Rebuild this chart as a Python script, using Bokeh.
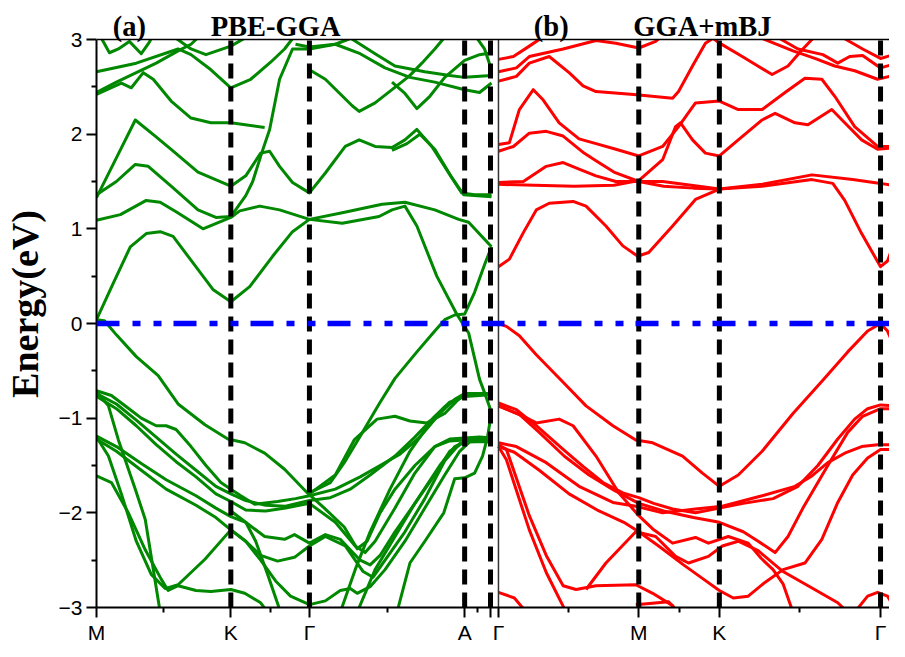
from bokeh.plotting import figure
from bokeh.models import Range1d, FixedTicker, Span, Label
from bokeh.embed import file_html
from bokeh.resources import INLINE

# ---------------- k-path (path-length units) ----------------
k_ticks = [0, 135, 214, 370, 396, 404, 545, 626, 788]
k_labels = ["M", "K", "Γ", "A", "", "Γ", "M", "K", "Γ"]
k_minor = [67.5, 174.5, 292, 383, 474.5, 585.5, 707]
k_dashed = [135, 214, 370, 396, 545, 626, 788]
k_divider = [404]
e_ticks = [-3, -2, -1, 0, 1, 2, 3]
e_minor = [-2.5, -1.5, -0.5, 0.5, 1.5, 2.5]

# ---------------- (a) PBE-GGA bands: (k, E[eV]) ----------------
pbe_c1 = [(0,0.04),(17,0.43),(34,0.81),(50,0.95),(64,0.97),(77,0.92),(97,0.64),(117,0.36),(135,0.23),(154,0.39),(177,0.71),(197,0.97),(214,1.1),(247,1.06),(284,1.13),(297,1.2),(310,1.24),(322,1.03),(342,0.5),(362,0.1),(374,-0.1),(385,-0.59),(390,-0.73),(397,-0.94),(393,-1.2),(388,-1.4),(380,-1.58),(370,-1.63),(360,-1.64),(349,-2.0),(330,-2.3),(315,-2.53),(302,-3.05)]
pbe_c2 = [(214,1.1),(247,1.17),(287,1.26),(310,1.28),(340,1.2),(364,1.1),(374,1.07),(397,0.81)]
pbe_ca = [(0,1.09),(24,1.15),(50,1.3),(64,1.28),(80,1.18),(107,1.0),(135,1.12),(144,1.19),(164,1.24),(184,1.2),(214,1.1)]
pbe_cb = [(0,1.36),(20,1.5),(39,1.68),(52,1.66),(75,1.45),(102,1.2),(120,1.12),(135,1.13),(150,1.35),(157,1.5),(166,1.8),(174,2.05),(184,2.58),(197,2.9),(214,2.9),(240,2.95),(265,3.05)]
pbe_cc = [(0,1.33),(20,1.75),(39,2.15),(59,1.98),(75,1.84),(102,1.6),(135,1.45),(150,1.56),(165,1.8),(174,1.82),(184,1.66),(197,1.49),(214,1.38),(230,1.59),(250,1.87),(264,1.94),(280,1.87),(297,1.86),(310,1.94),(322,2.05),(337,1.87),(354,1.59),(367,1.38),(380,1.36),(397,1.36)]
pbe_cc2 = [(297,1.83),(312,1.9),(325,2.0),(340,1.84),(356,1.56),(369,1.36),(397,1.34)]
pbe_cd = [(0,2.42),(25,2.54),(35,2.49),(47,2.65),(57,2.58),(75,2.35),(95,2.17),(115,2.12),(135,2.12),(169,2.07)]
pbe_ce = [(0,2.66),(40,2.75),(82,2.9),(95,2.84),(115,2.68),(135,2.49),(155,2.58),(175,2.76),(189,2.9),(200,3.05)]
pbe_cg = [(0,2.44),(20,2.55),(40,2.65),(60,2.75),(82,2.88),(95,2.95),(105,3.05)]
pbe_ch = [(3,3.05),(13,2.86),(22,2.9),(33,2.98),(45,2.85),(53,2.97),(57,3.05)]
pbe_ci = [(75,3.05),(95,2.9),(110,2.84),(135,2.93),(155,3.05)]
pbe_cj = [(214,2.68),(230,2.58),(257,2.3),(264,2.24),(280,2.33),(297,2.47),(314,2.61),(327,2.75),(340,2.9),(352,3.05)]
pbe_ck = [(200,2.95),(214,2.92),(240,2.95),(265,2.85),(290,2.7),(315,2.6),(340,2.55),(370,2.47),(385,2.44),(397,2.54)]
pbe_cl = [(250,3.05),(280,2.85),(300,2.72),(330,2.66),(355,2.62),(370,2.6),(397,2.62)]
pbe_cm = [(297,2.55),(310,2.43),(322,2.27),(335,2.4),(350,2.6),(370,2.78),(385,2.84),(397,2.86)]
pbe_cn = [(380,3.05),(390,2.9),(397,2.68)]
pbe_v1 = [(0,0.04),(8,0.03),(20,-0.12),(40,-0.35),(62,-0.55),(82,-0.85),(109,-1.07),(132,-1.22),(149,-1.26),(169,-1.37),(189,-1.54),(212,-1.79),(229,-1.95),(249,-2.15),(262,-2.38),(272,-2.3),(285,-2.0),(300,-1.75),(320,-1.5),(340,-1.3),(355,-1.22),(370,-1.21),(385,-1.2),(397,-1.21)]
pbe_v2 = [(214,-1.79),(235,-1.68),(249,-1.47),(265,-1.19),(284,-0.85),(300,-0.58),(322,-0.3),(340,-0.08),(350,0.04),(360,0.09),(370,0.1),(380,0.33),(390,0.62),(397,0.81)]
pbe_b1 = [(0,-0.71),(15,-0.76),(30,-0.88),(45,-1.0),(60,-1.08),(70,-1.08),(80,-1.12),(95,-1.3),(110,-1.5),(125,-1.68),(135,-1.75),(145,-1.82),(159,-1.91),(182,-1.88),(200,-1.85),(214,-1.82),(240,-1.75),(265,-1.62),(285,-1.5),(305,-1.38),(325,-1.2),(345,-0.95),(360,-0.8),(370,-0.74),(385,-0.74),(397,-0.74)]
pbe_b2 = [(0,-0.74),(20,-0.85),(40,-1.02),(60,-1.2),(80,-1.38),(100,-1.55),(120,-1.72),(135,-1.8),(150,-1.87),(170,-1.92),(190,-1.93),(214,-1.87),(235,-1.84),(255,-1.75),(275,-1.6),(300,-1.4),(320,-1.2),(340,-0.98),(355,-0.83),(370,-0.77),(385,-0.76),(397,-0.75)]
pbe_b3 = [(0,-0.77),(20,-0.9),(40,-1.08),(60,-1.28),(80,-1.46),(100,-1.62),(120,-1.8),(135,-1.88),(150,-1.97),(170,-1.98),(190,-1.95),(214,-1.9),(240,-2.1),(260,-2.35),(270,-2.42),(280,-2.3),(300,-1.95),(320,-1.58),(340,-1.3),(355,-1.24),(370,-1.23),(397,-1.22)]
pbe_b4 = [(0,-1.19),(20,-1.3),(45,-1.48),(70,-1.65),(100,-1.82),(120,-1.95),(135,-2.04),(150,-2.1),(169,-2.25),(189,-2.28),(199,-2.23),(214,-2.32),(230,-2.23),(245,-2.28),(265,-2.5),(275,-2.55),(285,-2.45),(300,-2.2),(320,-1.9),(340,-1.6),(355,-1.35),(370,-1.25),(397,-1.25)]
pbe_b5 = [(0,-1.22),(20,-1.35),(45,-1.55),(70,-1.75),(100,-1.92),(120,-2.05),(135,-2.18),(150,-2.3),(165,-2.45),(182,-2.51),(199,-2.47),(214,-2.35),(230,-2.25),(250,-2.35),(268,-2.62),(278,-2.68),(290,-2.5),(310,-2.2),(330,-1.85),(350,-1.45),(365,-1.27),(380,-1.22),(397,-1.23)]
pbe_b6 = [(0,-1.61),(15,-1.68),(32,-2.0),(49,-2.39),(65,-2.7),(72,-2.82),(82,-2.77),(100,-2.82),(115,-2.83),(135,-2.81),(149,-2.85),(165,-2.95),(172,-3.05)]
pbe_b7 = [(0,-0.72),(12,-0.87),(22,-1.23),(39,-1.75),(49,-2.07),(64,-3.05)]
pbe_b8 = [(0,-1.2),(12,-1.4),(25,-1.8),(40,-2.3),(55,-2.65),(69,-2.8),(82,-2.76),(109,-2.49),(135,-2.18),(150,-2.3),(165,-2.5),(180,-2.72),(195,-2.88),(214,-2.97),(230,-2.93),(245,-2.82),(255,-2.8),(262,-2.85),(275,-2.78),(290,-2.6),(310,-2.3),(330,-1.95),(350,-1.6),(365,-1.35),(375,-1.25),(397,-1.24)]
pbe_b10 = [(135,-1.98),(150,-2.1),(160,-2.3),(172,-2.65),(185,-3.05)]
pbe_b11 = [(245,-3.05),(260,-2.6),(275,-2.2),(295,-1.75),(315,-1.35),(335,-1.05),(350,-0.88),(362,-0.8),(370,-0.77)]
pbe_b12 = [(262,-3.05),(280,-2.6),(300,-2.25),(320,-1.9),(345,-1.5),(360,-1.3),(370,-1.25)]
pbe_b13 = [(214,-1.8),(240,-1.6),(259,-1.23),(282,-1.01),(300,-0.98),(315,-1.03),(332,-1.05),(350,-0.95),(362,-0.82),(370,-0.75)]

# ---------------- (b) GGA+mBJ bands: (k, E[eV]) ----------------
mbj_c1 = [(404,0.6),(415,0.68),(429,0.96),(442,1.2),(455,1.27),(479,1.29),(492,1.24),(512,1.03),(529,0.82),(544,0.71),(555,0.75),(579,1.03),(602,1.31),(626,1.42),(669,1.45),(719,1.52),(740,1.48),(752,1.3),(769,0.95),(788,0.6),(795,0.66),(805,0.95)]
mbj_c2 = [(404,1.49),(429,1.5),(452,1.66),(469,1.7),(485,1.63),(502,1.56),(522,1.5),(545,1.5),(569,1.5),(590,1.47),(626,1.42),(669,1.47),(719,1.57),(760,1.52),(788,1.48),(805,1.45)]
mbj_c3 = [(404,1.47),(440,1.46),(480,1.45),(520,1.46),(545,1.51),(569,1.73),(582,2.08),(587,2.12),(599,1.94),(612,1.8),(626,1.77),(645,1.94),(669,2.15),(682,2.22),(702,2.12),(715,2.1),(739,2.26),(752,2.12),(769,1.94),(785,1.84),(805,1.86)]
mbj_c4 = [(404,1.89),(415,1.91),(425,2.26),(439,2.47),(449,2.36),(465,2.12),(485,1.95),(502,1.9),(522,1.84),(545,1.77),(569,1.87),(585,2.08),(602,2.33),(626,2.35),(645,2.26),(669,2.26),(692,2.44),(712,2.59),(729,2.58),(742,2.4),(762,2.08),(785,1.87),(805,1.87)]
mbj_c5 = [(404,1.82),(419,1.87),(435,2.01),(452,2.03),(469,1.98),(490,1.8),(502,1.72),(520,1.6),(545,1.5),(570,1.45),(600,1.43),(626,1.42)]
mbj_t1 = [(404,2.56),(422,2.61),(435,2.75),(455,2.82),(475,2.65),(489,2.51),(502,2.45),(540,2.42),(579,2.38),(585,2.45),(599,2.72),(612,2.96),(625,3.05)]
mbj_t2 = [(404,2.66),(422,2.7),(435,2.82),(452,2.86),(469,2.9),(502,2.99),(522,2.96),(545,2.91),(562,2.98),(570,3.05)]
mbj_t3 = [(404,2.79),(419,2.82),(435,2.93),(452,3.05)]
mbj_t6 = [(615,3.05),(625,2.97),(649,2.82),(679,2.63),(695,2.72),(709,2.89),(719,3.0),(725,3.05)]
mbj_t7 = [(660,3.05),(700,2.88),(722,2.8),(742,2.72),(762,2.67),(785,2.58),(805,2.63)]
mbj_t8 = [(680,3.05),(705,2.9),(730,2.84),(745,2.75),(757,2.82),(770,2.83),(788,2.7),(805,2.75)]
mbj_t9 = [(745,3.05),(770,2.9),(788,2.8),(805,2.85)]
mbj_v1 = [(404,0.0),(412,-0.03),(425,-0.13),(442,-0.33),(469,-0.62),(492,-0.87),(519,-1.08),(542,-1.23),(559,-1.26),(589,-1.4),(609,-1.58),(626,-1.72),(645,-1.6),(669,-1.35),(700,-0.95),(730,-0.6),(755,-0.3),(775,-0.08),(788,0.0),(795,-0.08),(800,-0.2),(807,-0.4)]
mbj_v2a = [(404,-0.84),(422,-0.91),(442,-1.08),(469,-1.33),(489,-1.51),(509,-1.68),(529,-1.79),(545,-1.84),(560,-1.9),(579,-1.96),(602,-2.0),(626,-1.95),(650,-1.9),(680,-1.85),(705,-1.72),(725,-1.5),(745,-1.22),(762,-1.01),(775,-0.9),(788,-0.86),(805,-0.87)]
mbj_v2b = [(404,-0.87),(425,-0.96),(445,-1.15),(470,-1.4),(495,-1.6),(520,-1.76),(545,-1.9),(570,-1.98),(600,-2.05),(626,-2.1),(650,-2.2),(665,-2.3),(682,-2.42),(695,-2.25),(710,-1.95),(735,-1.5),(755,-1.15),(770,-0.98),(788,-0.9),(805,-0.9)]
mbj_v3 = [(404,-0.87),(429,-0.98),(442,-1.05),(465,-1.01),(479,-1.08),(502,-1.4),(525,-1.79),(545,-2.03),(559,-2.17),(579,-2.32),(602,-2.26),(615,-2.32),(635,-2.25),(655,-2.32),(668,-2.48),(680,-2.6),(690,-2.75),(700,-3.05)]
mbj_v4 = [(404,-1.26),(422,-1.3),(452,-1.47),(485,-1.72),(519,-1.89),(542,-1.93),(569,-2.0),(602,-1.96),(629,-1.93),(669,-1.82),(702,-1.72),(719,-1.61),(735,-1.47),(752,-1.37),(769,-1.3),(785,-1.28),(807,-1.28)]
mbj_v5 = [(404,-1.3),(420,-1.36),(445,-1.55),(475,-1.8),(505,-1.98),(530,-2.1),(545,-2.2),(565,-2.35),(590,-2.55),(610,-2.7),(626,-2.82),(640,-2.9),(655,-2.88),(670,-2.75),(690,-2.6),(712,-2.53),(729,-2.28),(745,-1.89),(760,-1.6),(775,-1.42),(788,-1.33),(807,-1.33)]
mbj_v6 = [(404,-1.28),(412,-1.33),(435,-2.03),(452,-2.45),(469,-2.77),(482,-2.81),(502,-2.77),(542,-2.76),(559,-2.85),(579,-2.98),(582,-3.05)]
mbj_v7 = [(404,-1.3),(412,-1.44),(435,-2.18),(452,-2.63),(472,-3.05)]
mbj_v8 = [(492,-2.81),(512,-2.53),(542,-2.2),(562,-2.25),(582,-2.46),(595,-2.53),(615,-2.46),(629,-2.35),(645,-2.3),(665,-2.4),(690,-2.62),(720,-2.8),(745,-2.95),(755,-3.05)]
mbj_v9 = [(762,-3.05),(775,-2.88),(785,-2.84),(795,-2.88),(805,-3.05)]
mbj_v10 = [(404,-2.84),(420,-2.9),(432,-3.05)]
mbj_v11 = [(542,-2.97),(575,-2.94),(585,-3.05)]

pbe_bands = [pbe_c1, pbe_c2, pbe_ca, pbe_cb, pbe_cc, pbe_cc2, pbe_cd, pbe_ce, pbe_cg,
             pbe_ch, pbe_ci, pbe_cj, pbe_ck, pbe_cl, pbe_cm, pbe_cn, pbe_v1, pbe_v2,
             pbe_b1, pbe_b2, pbe_b3, pbe_b4, pbe_b5, pbe_b6, pbe_b7, pbe_b8, pbe_b10,
             pbe_b11, pbe_b12, pbe_b13]
mbj_bands = [mbj_c1, mbj_c2, mbj_c3, mbj_c4, mbj_c5, mbj_t1, mbj_t2, mbj_t3, mbj_t6,
             mbj_t7, mbj_t8, mbj_t9, mbj_v1, mbj_v2a, mbj_v2b, mbj_v3, mbj_v4, mbj_v5,
             mbj_v6, mbj_v7, mbj_v8, mbj_v9, mbj_v10, mbj_v11]

titles = ["(a)", "PBE-GGA", "(b)", "GGA+mBJ"]
title_k = [33, 180, 457, 609]

GREEN = "#008800"
RED = "#FF0000"

W, H = 889, 647
BORDER_L, BORDER_B = 92, 40
frame_w = W - BORDER_L
frame_h = H - BORDER_B
e_lo, e_hi = e_ticks[0], e_ticks[-1]
px_per_ev = 568 / (e_hi - e_lo)           # 6 eV over 568 px
e_top = e_lo + frame_h / px_per_ev        # headroom above 3 eV for titles

p = figure(width=W, height=H, output_backend="svg", toolbar_location=None,
           x_range=Range1d(0, frame_w), y_range=Range1d(e_lo, e_top),
           min_border_left=BORDER_L, min_border_right=0, min_border_top=0,
           min_border_bottom=BORDER_B)
p.grid.visible = False
p.outline_line_color = None
p.background_fill_color = "white"

p.multi_line([[q[0] for q in b] for b in pbe_bands], [[q[1] for q in b] for b in pbe_bands],
             line_color=GREEN, line_width=3, line_join="round")
p.multi_line([[q[0] for q in b] for b in mbj_bands], [[q[1] for q in b] for b in mbj_bands],
             line_color=RED, line_width=3, line_join="round")

# mask above the top of the energy window (title strip)
p.quad(left=[0], right=[frame_w], bottom=[e_hi], top=[e_top],
       fill_color="white", line_color=None)

p.segment(x0=k_dashed, y0=[e_lo] * len(k_dashed), x1=k_dashed, y1=[e_hi] * len(k_dashed),
          line_color="black", line_width=5, line_dash="15 8")
p.segment(x0=k_divider, y0=[e_lo], x1=k_divider, y1=[e_hi],
          line_color="#333333", line_width=1.5)
p.add_layout(Span(location=0, dimension="width", line_color="#0000FF",
                  line_width=5.5, line_dash="23 13 8 13 8 12"))
p.add_layout(Span(location=e_hi, dimension="width", line_color="black", line_width=1.5))

# axes
p.xaxis.ticker = FixedTicker(ticks=k_ticks, minor_ticks=k_minor)
p.xaxis.major_label_overrides = {t: l for t, l in zip(k_ticks, k_labels)}
p.yaxis.ticker = FixedTicker(ticks=e_ticks, minor_ticks=e_minor)
p.yaxis.bounds = (e_lo, e_hi)
for ax in (p.xaxis[0], p.yaxis[0]):
    ax.axis_line_color = "black"
    ax.axis_line_width = 2
    ax.major_tick_line_color = "black"
    ax.major_tick_line_width = 2
    ax.minor_tick_line_color = "black"
    ax.minor_tick_line_width = 2
    ax.major_tick_out = 10
    ax.major_tick_in = 0
    ax.minor_tick_out = 5
    ax.minor_tick_in = 0
    ax.major_label_text_font = "Liberation Sans"
    ax.major_label_text_font_size = "21px"
    ax.major_label_text_color = "black"
    ax.major_label_standoff = 4
p.xaxis.major_label_standoff = 3
p.yaxis.axis_label = "Energy(eV)"
p.yaxis.axis_label_text_font = "Liberation Serif"
p.yaxis.axis_label_text_font_style = "bold"
p.yaxis.axis_label_text_font_size = "38px"
p.yaxis.axis_label_text_color = "black"
p.yaxis.axis_label_standoff = 10

# panel titles
for tx, tt in zip(title_k, titles):
    p.add_layout(Label(x=tx, y=e_hi + 13 / px_per_ev, text=tt, text_font="Liberation Serif",
                       text_font_style="bold", text_font_size="28.5px",
                       text_align="center", text_baseline="alphabetic", text_color="black"))

open("out.html", "w").write(file_html(p, INLINE))
